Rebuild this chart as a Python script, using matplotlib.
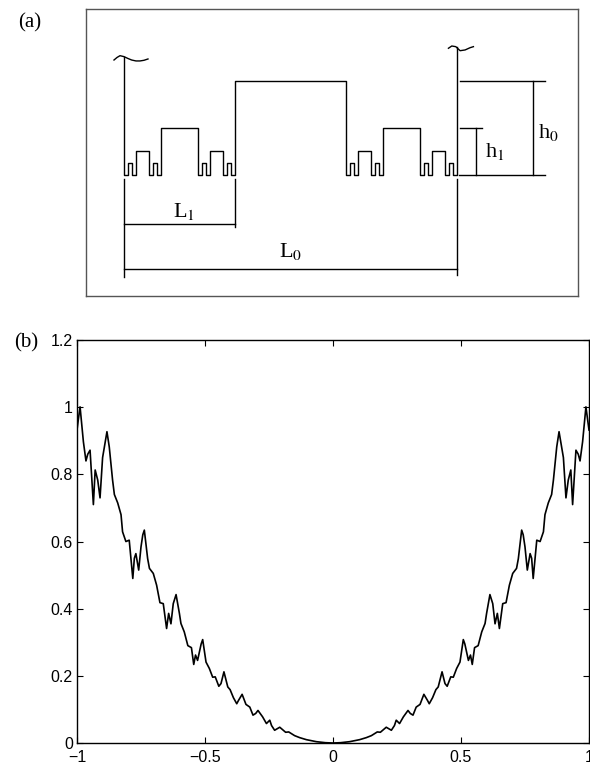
import numpy as np
import matplotlib
matplotlib.use('Agg')
from matplotlib import pyplot as plt

plt.rcParams['mathtext.fontset'] = 'stix'

# panel (b): right half of the curve
# (the curve in the reference is mirror symmetric about x = 0)
x_half = [0.000, 0.030, 0.065, 0.104, 0.130, 0.150, 0.173, 0.185, 0.208, 0.228,
          0.240, 0.247, 0.260, 0.275, 0.293, 0.302, 0.3125, 0.325, 0.340, 0.355,
          0.369, 0.376, 0.389, 0.402, 0.411, 0.426, 0.4375, 0.446, 0.460, 0.470,
          0.483, 0.496, 0.509, 0.515, 0.529, 0.537, 0.544, 0.553, 0.567, 0.581,
          0.594, 0.600, 0.613, 0.624, 0.633, 0.642, 0.650, 0.663, 0.676, 0.689,
          0.702, 0.717, 0.724, 0.737, 0.743, 0.750, 0.759, 0.770, 0.776, 0.782,
          0.796, 0.809, 0.822, 0.828, 0.841, 0.854, 0.861, 0.874, 0.883, 0.893,
          0.900, 0.910, 0.919, 0.929, 0.936, 0.949, 0.958, 0.965, 0.975, 0.988,
          0.995, 1.000]
y_half = [0.000, 0.001, 0.004, 0.010, 0.016, 0.022, 0.033, 0.032, 0.047, 0.038,
          0.052, 0.068, 0.058, 0.078, 0.097, 0.088, 0.083, 0.107, 0.115, 0.145,
          0.127, 0.117, 0.135, 0.159, 0.167, 0.212, 0.177, 0.169, 0.197, 0.196,
          0.222, 0.241, 0.308, 0.295, 0.246, 0.262, 0.234, 0.284, 0.290, 0.331,
          0.356, 0.386, 0.442, 0.415, 0.355, 0.386, 0.341, 0.415, 0.418, 0.470,
          0.505, 0.520, 0.549, 0.634, 0.620, 0.584, 0.515, 0.564, 0.550, 0.490,
          0.604, 0.600, 0.629, 0.680, 0.715, 0.740, 0.783, 0.882, 0.927, 0.882,
          0.850, 0.730, 0.783, 0.813, 0.710, 0.872, 0.860, 0.840, 0.897, 1.001,
          0.962, 0.932]

x_ticks = [-1, -0.5, 0, 0.5, 1]
x_tick_labels = ['\u22121', '\u22120.5', '0', '0.5', '1']
y_ticks = [0, 0.2, 0.4, 0.6, 0.8, 1, 1.2]
y_tick_labels = ['0', '0.2', '0.4', '0.6', '0.8', '1', '1.2']

# panel (a): pulse height of each generation, in units of h0
level_heights = [1.0, 0.5, 0.25, 0.125]


def cantor_profile(a, b, level):
    if level >= len(level_heights):
        return [(a, 0.0), (b, 0.0)]
    t = (b - a) / 3
    h = level_heights[level]
    pts = cantor_profile(a, a + t, level + 1)
    pts += [(a + t, h), (a + 2 * t, h)]
    pts += cantor_profile(a + 2 * t, b, level + 1)
    return pts


fig = plt.figure(figsize=(5.9, 7.66), dpi=100)

# ---------------- panel (a) ----------------
ax_a = fig.add_axes([0.1458, 0.6136, 0.8339, 0.3747])
ax_a.set_xlim(-0.114, 1.363)
ax_a.set_ylim(-1.287, 1.766)
ax_a.set_xticks([])
ax_a.set_yticks([])
for s in ax_a.spines.values():
    s.set_color('#555555')
    s.set_linewidth(1.0)

prof = [(0.0, 1.259)] + cantor_profile(0.0, 1.0, 0) + [(1.0, 1.365)]
px, py = zip(*prof)
ax_a.plot(px, py, color='k', lw=1.0)

# wavy ends of the two walls
sq_left_x = [-0.030, -0.021, -0.012, 0.000, 0.012, 0.023, 0.036, 0.048, 0.060, 0.072]
sq_left_y = [1.223, 1.250, 1.269, 1.259, 1.239, 1.223, 1.213, 1.213, 1.220, 1.234]
sq_right_x = [0.974, 0.984, 0.996, 1.009, 1.024, 1.039, 1.049]
sq_right_y = [1.348, 1.372, 1.365, 1.322, 1.330, 1.354, 1.365]
ax_a.plot(sq_left_x, sq_left_y, color='k', lw=1.0)
ax_a.plot(sq_right_x, sq_right_y, color='k', lw=1.0)

lk = dict(color='k', lw=1.0)
# L1 and L0 dimensions
ax_a.plot([0, 0], [-0.043, -1.085], **lk)
ax_a.plot([1 / 3, 1 / 3], [-0.043, -0.553], **lk)
ax_a.plot([1, 1], [-0.043, -1.065], **lk)
ax_a.plot([0, 1 / 3], [-0.521, -0.521], **lk)
ax_a.plot([0, 1], [-1.0, -1.0], **lk)
# h1 and h0 dimensions
ax_a.plot([1.007, 1.264], [0, 0], **lk)
ax_a.plot([1.009, 1.264], [1.0, 1.0], **lk)
ax_a.plot([1.009, 1.074], [0.5, 0.5], **lk)
ax_a.plot([1.227, 1.227], [0, 1.0], **lk)
ax_a.plot([1.057, 1.057], [0, 0.5], **lk)

tk = dict(family='Liberation Serif', fontsize=16, color='k')
ax_a.text(1 / 6 + 0.013, -0.444, r'L$_1$', ha='center', va='baseline', **tk)
ax_a.text(0.5, -0.872, r'L$_0$', ha='center', va='baseline', **tk)
ax_a.text(1.084, 0.19, r'h$_1$', ha='left', va='baseline', **tk)
ax_a.text(1.243, 0.394, r'h$_0$', ha='left', va='baseline', **tk)

fig.text(30 / 590, 1 - 23 / 766, '(a)', ha='center', va='center',
         family='Liberation Serif', fontsize=15)

# ---------------- panel (b) ----------------
ax_b = fig.add_axes([0.1305, 0.0300, 0.8678, 0.5261])
xs = np.concatenate([-np.array(x_half[::-1]), np.array(x_half[1:])])
ys = np.concatenate([np.array(y_half[::-1]), np.array(y_half[1:])])
ax_b.plot(xs, ys, color='k', lw=1.2)
ax_b.set_xlim(-1, 1)
ax_b.set_ylim(0, 1.2)
ax_b.set_xticks(x_ticks)
ax_b.set_xticklabels(x_tick_labels)
ax_b.set_yticks(y_ticks)
ax_b.set_yticklabels(y_tick_labels)
ax_b.tick_params(direction='in', length=4, width=0.8, top=True, right=True,
                 labelsize=11.5)
ax_b.tick_params(axis='x', pad=5)
ax_b.tick_params(axis='y', pad=3)
for lab in ax_b.get_xticklabels() + ax_b.get_yticklabels():
    lab.set_family('Liberation Sans')
for s in ax_b.spines.values():
    s.set_linewidth(1.0)

fig.text(26 / 590, 1 - 343 / 766, '(b)', ha='center', va='center',
         family='Liberation Serif', fontsize=15)

fig.savefig('out.png', dpi=100)
